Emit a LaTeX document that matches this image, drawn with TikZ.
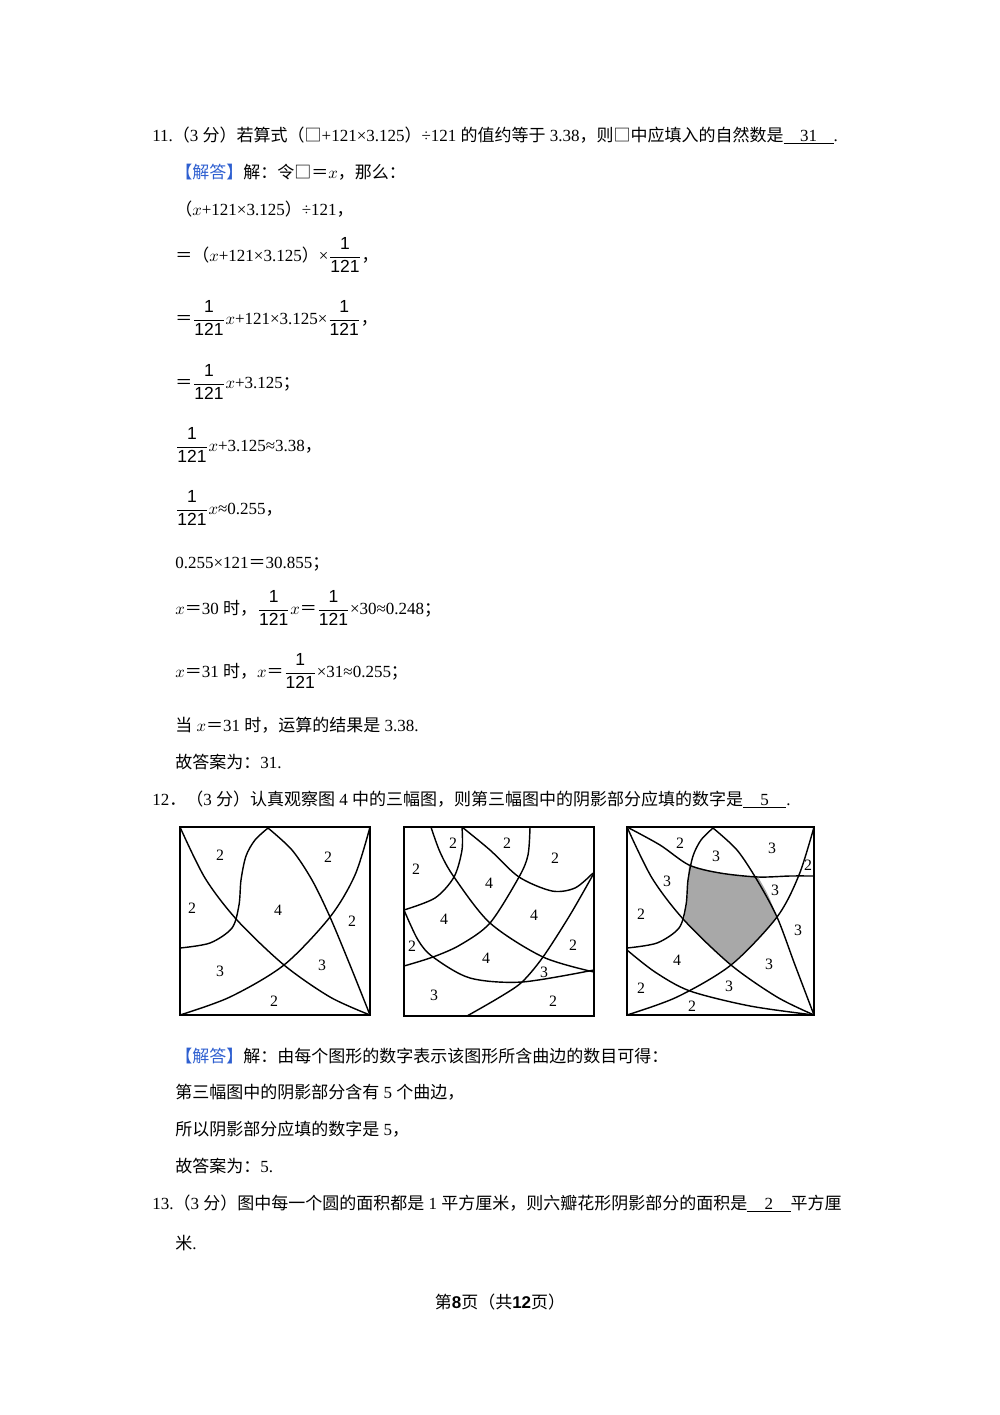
\documentclass[tikz,border=0pt]{standalone}
\usepackage{fontspec}
\setmainfont{Liberation Serif}
\newfontfamily\cjk{Noto Sans CJK SC}
\newfontfamily\sfb{Liberation Sans}
\XeTeXinterchartokenstate=1
\newXeTeXintercharclass\CJKcls
\def\setcls#1#2{\count255=#1 \loop\XeTeXcharclass\count255=\CJKcls\ifnum\count255<#2 \advance\count255 1 \repeat}
\setcls{"3000}{"303F}
\setcls{"4E00}{"9FFF}
\setcls{"FF00}{"FFEF}
\XeTeXcharclass"25A1=\CJKcls
\XeTeXinterchartoks 0 \CJKcls={\begingroup\cjk}
\XeTeXinterchartoks 4095 \CJKcls={\begingroup\cjk}
\XeTeXinterchartoks \CJKcls 0={\endgroup}
\XeTeXinterchartoks \CJKcls 4095={\endgroup}
\newcommand\ulbox[2]{\underline{\makebox[#1]{#2}}}
\newcommand\fdig[1]{\mbox{\sfb\fontsize{10.5pt}{11pt}\selectfont #1}}
\newcommand\fr{$\displaystyle\frac{\fdig{1}}{\fdig{121}}$}
\definecolor{ansblue}{HTML}{2E5FD0}
\begin{document}
\begin{tikzpicture}[x=0.6pt,y=-0.6pt,
  txt/.style={anchor=base west,inner sep=0pt,font=\fontsize{10.2pt}{12pt}\selectfont},
  crv/.style={line width=0.85pt},
  box/.style={line width=0.9pt}]
\useasboundingbox (0,0) rectangle (1000,1415);
% text
\node[txt] (t1) at (152,141) {11.（3 分）若算式（□+121×3.125）÷121 的值约等于 3.38，则□中应填入的自然数是\ulbox{30pt}{31}.};
\node[txt] (t2) at (175,178) {\textcolor{ansblue}{【解答】}解：令□＝$x$，那么：};
\node[txt] (t3) at (175,215) {（$x$+121×3.125）÷121，};
\node[txt] (t4) at (175,261) {＝（$x$+121×3.125）×\fr，};
\node[txt] (t5) at (175,324) {＝\fr$x$+121×3.125×\fr，};
\node[txt] (t6) at (175,388) {＝\fr$x$+3.125；};
\node[txt] (t7) at (175,451) {\fr$x$+3.125≈3.38，};
\node[txt] (t8) at (175,514) {\fr$x$≈0.255，};
\node[txt] (t9) at (175,568) {0.255×121＝30.855；};
\node[txt] (t10) at (175,614) {$x$＝30 时，\fr$x$＝\fr×30≈0.248；};
\node[txt] (t11) at (175,677) {$x$＝31 时，$x$＝\fr×31≈0.255；};
\node[txt] (t12) at (175,731) {当 $x$＝31 时，运算的结果是 3.38.};
\node[txt] (t13) at (175,768) {故答案为：31.};
\node[txt] (t14) at (152,805) {12．（3 分）认真观察图 4 中的三幅图，则第三幅图中的阴影部分应填的数字是\ulbox{26pt}{5}.};
\node[txt] (t15) at (175,1062) {\textcolor{ansblue}{【解答】}解：由每个图形的数字表示该图形所含曲边的数目可得：};
\node[txt] (t16) at (175,1098) {第三幅图中的阴影部分含有 5 个曲边，};
\node[txt] (t17) at (175,1135) {所以阴影部分应填的数字是 5，};
\node[txt] (t18) at (175,1172) {故答案为：5.};
\node[txt] (t19) at (152,1209) {13.（3 分）图中每一个圆的面积都是 1 平方厘米，则六瓣花形阴影部分的面积是\ulbox{26pt}{2}平方厘};
\node[txt] (t20) at (175,1249) {米.};
\node[txt,anchor=base] (ft) at (500,1308) {第{\sfb\bfseries 8}页（共{\sfb\bfseries 12}页）};
% figure 1
\draw[box] (180,827) rectangle (370,1015);
\draw[crv] plot[smooth] coordinates {(180,827)(205,878)(237,920)(284,965)(330,997)(370,1015)};
\draw[crv] plot[smooth] coordinates {(180,1015)(230,997)(284,965)(330,917)(355,875)(370,827)};
\draw[crv] plot[smooth] coordinates {(268,828)(292,850)(312,880)(330,917)(350,965)(370,1015)};
\draw[crv] plot[smooth] coordinates {(180,948)(210,943)(232,928)(239,905)(241,880)(246,856)(255,840)(268,828)};
\foreach \p/\n in {{(220,855)}/2,{(328,857)}/2,{(192,908)}/2,{(278,910)}/4,{(352,921)}/2,{(220,971)}/3,{(322,965)}/3,{(274,1001)}/2}
  \node[font=\fontsize{9.5pt}{10pt}\selectfont,inner sep=0pt] at \p {\n};
% figure 2
\draw[box] (404,827) rectangle (594,1016);
\draw[crv] plot[smooth] coordinates {(431,827)(440,852)(454,877)(490,923)(543,957)(594,972)};
\draw[crv] plot[smooth] coordinates {(462,827)(462,850)(454,877)(435,898)(404,910)};
\draw[crv] plot[smooth] coordinates {(462,827)(490,850)(519,877)(552,891)(575,888)(593,873)};
\draw[crv] plot[smooth] coordinates {(530,827)(528,855)(519,877)(490,923)(460,945)(433,957)(404,966)};
\draw[crv] plot[smooth] coordinates {(404,910)(418,940)(433,957)(470,978)(522,982)(594,970)};
\draw[crv] plot[smooth] coordinates {(467,1016)(500,997)(522,982)(543,957)(570,915)(594,873)};
\foreach \p/\n in {{(453,843)}/2,{(507,843)}/2,{(555,858)}/2,{(416,869)}/2,{(489,883)}/4,{(444,919)}/4,{(534,915)}/4,{(412,946)}/2,{(573,945)}/2,{(486,958)}/4,{(544,972)}/3,{(434,995)}/3,{(553,1001)}/2}
  \node[font=\fontsize{9.5pt}{10pt}\selectfont,inner sep=0pt] at \p {\n};
% figure 3
\fill[black!34] plot[smooth] coordinates {(689,865)(720,873)(758,877)} -- plot[smooth] coordinates {(758,877)(768,895)(777,917)} -- plot[smooth] coordinates {(777,917)(755,942)(731,964)} -- plot[smooth] coordinates {(731,964)(705,942)(684,920)} -- plot[smooth] coordinates {(684,920)(687,900)(688,880)(689,865)} -- cycle;
\draw[box] (627,827) rectangle (814,1015);
\begin{scope}[shift={(447,0)}]
\draw[crv] plot[smooth] coordinates {(180,827)(205,878)(237,920)(284,965)(330,997)(367,1015)};
\draw[crv] plot[smooth] coordinates {(180,1015)(230,997)(284,965)(330,917)(352,875)(367,827)};
\draw[crv] plot[smooth] coordinates {(266,828)(290,850)(310,880)(330,917)(348,965)(367,1015)};
\draw[crv] plot[smooth] coordinates {(180,948)(210,943)(232,928)(239,905)(241,880)(246,856)(254,840)(266,828)};
\end{scope}
\draw[crv] plot[smooth] coordinates {(627,827)(660,845)(689,865)(720,873)(758,877)(790,876)(814,876)};
\draw[crv] plot[smooth] coordinates {(627,950)(655,972)(690,991)(750,1006)(814,1015)};
\foreach \p/\n in {{(680,843)}/2,{(716,856)}/3,{(772,848)}/3,{(808,865)}/2,{(667,881)}/3,{(775,890)}/3,{(641,914)}/2,{(798,930)}/3,{(677,960)}/4,{(769,964)}/3,{(729,986)}/3,{(641,988)}/2,{(692,1006)}/2}
  \node[font=\fontsize{9.5pt}{10pt}\selectfont,inner sep=0pt] at \p {\n};
\end{tikzpicture}
\end{document}
